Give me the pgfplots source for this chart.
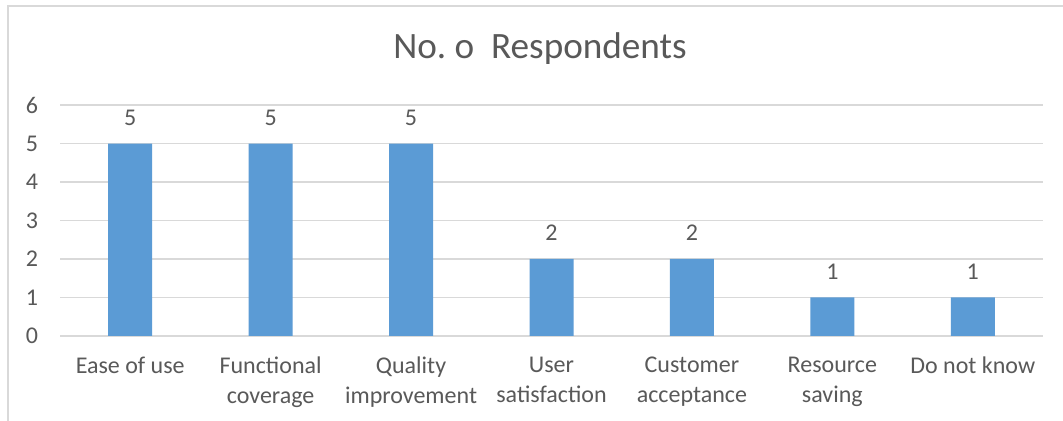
\documentclass[border=0pt]{standalone}
\usepackage{pgfplots}
\pgfplotsset{compat=1.18}
\usepackage{fontspec}
\setmainfont{Carlito}
\definecolor{barblue}{HTML}{5B9BD5}
\definecolor{txt}{HTML}{595959}
\definecolor{grd}{HTML}{D9D9D9}
\begin{document}
\begin{tikzpicture}
\useasboundingbox (0pt,0pt) rectangle (531.5pt,210.5pt);
\fill[white] (0pt,0pt) rectangle (531.5pt,210.5pt);
\draw[grd, line width=1pt] (4pt,0pt) -- (4pt,207.5pt) -- (531.5pt,207.5pt);
\node[txt, font=\fontsize{18.6}{22}\selectfont, anchor=base, inner sep=0pt] at (270pt,181.3pt) {No.\ o\ \ Respondents};
\begin{axis}[
  at={(30pt,42.5pt)}, anchor=south west,
  scale only axis, width=491.5pt, height=115.5pt,
  xmin=-0.5, xmax=6.5, ymin=0, ymax=6,
  ytick={0,1,2,3,4,5,6},
  xtick=data,
  xticklabels={Ease of use, Functional\\coverage, Quality\\improvement, User\\satisfaction, Customer\\acceptance, Resource\\saving, Do not know},
  ybar, bar width=22pt,
  axis line style={draw=none},
  major tick length=0pt,
  ymajorgrids, grid style={grd, line width=0.8pt},
  tick label style={font=\fontsize{12}{15}\selectfont, text=txt},
  /pgf/number format/assume math mode=true,
  xticklabel style={align=center, anchor=north, yshift=-7pt},
  yticklabel style={anchor=east, xshift=-7.5pt},
  nodes near coords,
  every node near coord/.append style={font=\fontsize{12}{15}\selectfont, text=txt, anchor=base, yshift=9pt, inner sep=0pt},
]
\addplot[fill=barblue, draw=none] coordinates {(0,5) (1,5) (2,5) (3,2) (4,2) (5,1) (6,1)};
\end{axis}
\end{tikzpicture}
\end{document}
